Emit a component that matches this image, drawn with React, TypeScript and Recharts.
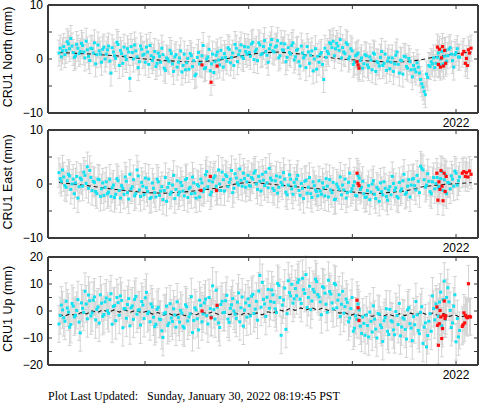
import { ComposedChart, Scatter, Line, XAxis, YAxis, ErrorBar } from 'recharts'

document.body.style.margin = '0'

// time grid of the daily solutions (decimal year): set A every ~8 days from T0,
// set B on the days half-way between
const T0 = 2018.17
const DT = 0.0228
const X_MIN = 2018.064
const X_MAX = 2022.212
const YEAR_TICKS = [2019, 2020, 2021, 2022]

const FRAME = '#3a3a3a'
const CYAN = '#12e2f2'
const RED = '#ff1010'
const BAR = '#d4d4d4'
const SANS = '"Liberation Sans", Arial, sans-serif'

// North (mm)
const northVals = [
  1.1, 0.4, 2.3, 1.6, 2.8, 3.8, 1.2, 0.6, 2.0, 1.4,
  2.5, 0.2, 1.7, -0.3, 1.9, 3.0, 0.8, 1.5, -0.6, 2.2,
  0.9, 2.4, -2.6, 1.3, 0.1, 2.7, 1.6, -0.8, 0.5, 1.9,
  -3.6, 1.2, 2.6, 0.4, -0.5, 1.8, 0.9, 2.2, -1.0, 0.6,
  0.3, -1.4, 1.1, -0.6, 0.8, -2.1, 0.0, 1.6, -0.9, 0.4,
  -1.5, 0.2, -2.4, 0.9, -0.7, -1.9, 0.6, -0.3, -2.8, 1.2,
  -0.8, 2.5, -1.6, 0.4, -2.2, 0.9, -0.5, 1.3, -1.1, 0.2,
  1.0, -0.4, 1.8, 0.3, -1.2, 2.0, 0.8, 2.6, 0.1, 1.4,
  2.2, 0.5, 3.1, 1.4, -0.3, 2.6, 1.0, 3.4, 0.7, 1.9,
  3.6, 1.3, 2.4, 0.2, 2.9, 1.6, -0.5, 2.1, 0.9, 3.0,
  0.4, 1.8, -1.3, 1.1, 0.6, 2.3, -0.8, 1.5, 0.0, -1.9,
  -0.6, 1.2, -3.8, 0.3, 1.0, 2.8, 3.3, 1.9, 2.4, 3.6,
  2.1, 1.0, 2.7, 0.4, 1.5, -0.6, 0.8, -1.4, 0.2, -0.9,
  0.6, -1.6, -0.2, 1.1, -2.3, -0.7, 0.3, -1.2, 0.9, -0.4,
  -1.8, 0.2, -0.9, 1.3, -2.6, -0.3, 0.5, -1.4, 0.1, -2.0,
  -1.2, -2.4, -1.5, -3.8, -5.2, -6.6, -3.4, -1.4, -0.9, -1.6,
  0.3, -1.1, 1.4, 0.5, -0.4, 1.8, 0.9, -1.5, 1.2, 0.4,
]
const northValsB = [
  2.0, 1.5, 0.8, 3.2, 1.9, 2.4, 0.3, 2.7, 1.0, 2.9,
  1.3, 3.3, 0.5, 2.0, 1.1, -0.9, 2.6, 0.9, 1.8, 0.0,
  1.7, -0.4, 2.1, 0.6, 3.1, -1.2, 1.0, 2.2, -0.1, 1.3,
  2.3, 0.0, 1.5, -1.6, 2.4, 0.7, -0.6, 1.3, 2.5, -0.3,
  1.4, -0.8, 0.5, 2.0, -1.7, 0.2, -0.4, 1.0, -2.3, 0.8,
  -0.6, 1.5, -1.2, -2.0, 0.1, 1.0, -1.4, -3.1, 0.3, -0.9,
  0.6, -1.8, 0.0, 1.8, -0.9, -2.5, 0.7, -0.2, 1.6, -1.5,
  0.3, 2.1, -0.7, 1.1, 2.7, -0.5, 1.5, 0.4, 2.3, 0.9,
  1.2, 2.8, -0.1, 1.8, 3.0, 0.8, 2.3, 1.4, -0.6, 2.6,
  1.5, 2.2, 3.4, 0.6, 1.7, 2.8, 0.3, 1.2, 2.5, -0.2,
  1.6, -0.5, 2.4, 0.2, -1.6, 1.3, 0.7, -2.2, 1.9, 0.5,
  0.9, -1.0, 2.0, 1.4, 3.0, 2.1, 0.6, 2.9, 1.6, 0.2,
  1.3, 3.0, 0.0, 1.9, -1.0, 0.6, 1.1, -0.3, -1.7, 0.8,
  -1.1, 0.4, -2.0, 0.9, -0.5, -1.3, 1.4, -0.8, -2.1, 0.2,
  -0.6, -2.3, 0.7, -1.0, -0.2, -2.8, 0.4, -1.7, -0.5, -3.3,
  -1.9, -0.7, -2.6, -4.6, -6.0, -2.8, -1.2, -0.5, 0.2, -0.8,
  1.1, 0.0, -0.9, 1.6, 0.6, 2.1, -0.3, 0.8, 1.9, 0.3,
]
const northRedYears = [2019.55, 2019.637, 2019.695, 2021.045, 2021.055, 2021.064, 2021.82, 2021.83, 2021.84, 2021.85, 2021.86, 2021.87, 2021.88, 2021.89, 2021.9, 2022.06, 2022.075, 2022.09, 2022.1, 2022.11, 2022.12, 2022.13, 2022.145]
const northRedVals = [-1.1, -4.3, -1.3, -0.5, -1.1, -1.7, 2.2, -1.0, 1.8, -1.5, 0.2, 2.3, -1.3, 1.6, -0.8, 0.9, 1.4, -0.8, 0.1, -1.2, 1.7, 1.1, 2.0]
const northTrendYears = [2018.17, 2018.5, 2018.72, 2019.0, 2019.2, 2019.4, 2019.6, 2019.75, 2019.9, 2020.1, 2020.3, 2020.5, 2020.7, 2020.9, 2021.1, 2021.3, 2021.5, 2021.65, 2021.8, 2022.0, 2022.15]
const northTrendVals = [1.2, 0.9, 0.6, 0.0, -0.3, -0.5, -0.4, -0.1, 0.5, 1.1, 1.3, 0.9, 0.4, 0.0, -0.3, -0.5, -0.5, -0.2, 0.4, 1.0, 1.3]

// East (mm)
const eastVals = [
  2.1, 0.5, 1.3, -0.6, 1.8, -1.0, 0.9, 0.2, -2.6, 1.1,
  -0.4, 1.6, 3.2, 2.5, -1.2, 0.3, -1.8, 0.8, -0.9, -2.1,
  0.4, -1.5, -2.3, -0.2, -1.9, 0.6, -2.6, -0.8, 1.3, -1.6,
  1.8, -0.5, -2.2, 2.6, -1.1, 0.3, -2.0, -0.7, 0.9, -2.5,
  -0.8, -2.4, 0.4, -1.3, -2.9, 1.2, -0.6, -1.9, -0.2, -2.7,
  0.6, -1.5, -0.3, -2.2, 1.0, -0.9, -1.8, 0.2, -2.6, -0.4,
  0.9, -1.4, 1.7, -0.5, -2.0, 0.4, 1.5, -1.1, 0.0, 2.2,
  -1.3, 1.4, 0.3, 2.5, -0.8, 1.1, -0.2, 0.7, 2.0, -0.6,
  1.6, -0.4, 0.9, 2.4, -1.0, 0.5, 1.8, -0.3, 0.2, 2.9,
  0.7, -1.2, 1.5, -0.6, 0.3, 2.1, -1.5, -0.2, 0.9, -1.9,
  -0.4, 1.6, -2.1, -0.8, 0.5, -1.7, 1.2, -2.5, -0.3, -1.4,
  0.6, -1.9, -0.7, 1.0, -2.4, -1.1, 0.3, -2.8, -0.5, 1.3,
  -0.2, 0.9, -1.6, 2.0, -0.9, 0.4, -2.2, 1.1, -0.6, -1.8,
  -2.4, -0.3, -1.5, 0.6, -2.7, -1.0, 0.2, -2.0, -0.8, -3.0,
  -0.5, 1.4, -1.2, -2.3, 0.3, -0.9, 1.8, -1.6, 0.8, -0.2,
  1.0, -1.1, 0.5, 3.3, 2.6, -0.6, 1.9, -1.4, 0.4, -0.9,
  1.2, -0.5, 2.3, 0.8, -1.8, 0.2, 1.5, -0.4, 2.0, 0.6,
]
const eastValsB = [
  1.0, 2.6, -0.3, 0.6, 1.5, 0.0, -1.8, 1.4, -0.5, 0.8,
  2.2, 0.1, -0.8, 1.2, 0.5, -1.4, 0.9, -2.3, 0.2, -0.6,
  -1.8, 0.9, -0.7, -2.5, 1.0, -1.2, -0.3, -1.9, 0.5, -2.8,
  -0.9, 0.8, -1.8, 1.5, -2.3, -0.4, 1.1, -1.4, -2.7, 0.2,
  -1.6, 0.9, -2.1, -0.5, -1.2, -3.2, 0.1, -1.5, 1.6, -1.0,
  -2.0, 0.3, -1.3, 0.8, -2.5, -0.6, 1.3, -1.7, -0.1, -2.4,
  0.2, -0.9, 2.3, 0.6, -1.5, 1.1, -0.4, 2.6, -1.2, 0.8,
  1.7, -0.5, 0.9, -1.6, 1.9, 0.2, 2.8, -0.4, 1.0, 0.4,
  -0.3, 1.2, 2.0, 0.0, 1.4, -1.3, 0.7, 2.2, -0.7, 1.1,
  -0.8, 0.6, -1.7, 1.3, -0.2, 0.9, -2.0, 1.7, -0.9, 0.3,
  0.9, -1.2, 0.1, -2.7, 0.7, -0.6, -1.8, 0.4, -1.1, -2.2,
  -1.3, 0.2, -2.2, -0.4, 0.8, -1.6, -2.9, 0.0, -1.0, -2.0,
  -1.1, -2.6, 0.3, -1.4, -0.3, -2.1, 1.6, -1.0, 0.5, -2.5,
  -1.2, -2.9, 0.0, -1.9, -0.6, -3.2, -1.4, 0.4, -2.3, -1.1,
  -2.0, 0.1, -0.7, -2.6, -1.3, 0.6, -1.9, -0.4, -2.4, 0.9,
  -0.3, 1.6, -1.6, 2.9, 0.8, -0.2, 0.5, -1.8, 1.2, 0.1,
  -0.7, 1.0, -1.2, 1.7, 0.3, -0.9, 0.9, 2.4, -0.2, 1.3,
]
const eastRedYears = [2019.54, 2019.63, 2019.69, 2021.045, 2021.055, 2021.064, 2021.815, 2021.825, 2021.835, 2021.845, 2021.855, 2021.865, 2021.875, 2021.885, 2021.895, 2021.905, 2022.06, 2022.075, 2022.09, 2022.1, 2022.115, 2022.13, 2022.145]
const eastRedVals = [-1.2, 1.4, -1.2, 2.0, 0.1, -0.3, 2.0, -3.0, 0.4, -1.0, 2.5, -0.4, -3.1, 2.0, -1.4, 1.4, 2.0, 2.3, 1.4, 2.1, 1.3, 2.4, 1.8]
const eastTrendYears = [2018.17, 2018.48, 2018.71, 2019.0, 2019.2, 2019.42, 2019.68, 2019.9, 2020.0, 2020.15, 2020.45, 2020.8, 2021.19, 2021.51, 2021.68, 2021.87, 2022.15]
const eastTrendVals = [0.3, -0.4, -1.0, -1.6, -1.7, -1.4, -0.8, 0.1, 0.3, 0.1, -0.5, -1.1, -1.85, -1.3, -0.5, -0.1, 0.25]

// Up (mm)
const upVals = [
  -4.8, 2.2, -2.5, 3.6, -0.4, -5.0, 1.8, -1.6, 4.2, -8.1,
  1.0, 7.3, -2.9, 3.8, -0.7, 5.2, 0.6, -4.5, 2.9, -1.3,
  4.8, -0.9, 6.4, 1.7, -3.6, 3.1, 5.6, -6.2, 0.8, 2.4,
  -5.5, 1.9, 4.3, -1.2, 0.5, 3.5, -2.8, 6.9, -0.3, 2.6,
  -2.3, -4.9, 1.4, -3.2, -9.8, -0.6, -5.4, 2.7, -3.9, -1.5,
  3.4, -4.1, -0.8, -6.3, 1.6, -2.2, 5.3, -3.5, 0.4, -7.0,
  2.0, -1.1, 4.4, -4.8, 0.9, 9.3, -3.0, 1.5, -6.1, 3.6,
  -0.5, 5.8, -4.2, 2.3, 0.0, -2.7, 6.7, 1.2, -5.6, 3.0,
  4.5, -1.8, 6.2, 0.7, -3.4, 13.2, 10.6, 2.6, 5.1, 1.0,
  7.8, 3.2, -0.6, 9.5, -9.0, 4.1, -6.8, 11.2, 5.6, 2.9,
  8.3, 10.6, 4.4, 12.1, 6.5, 1.3, 9.2, 3.7, 7.0, 10.9,
  5.2, -1.4, 8.6, 2.5, 11.4, 6.3, 0.8, 9.7, 4.0, -2.0,
  7.3, 1.6, 3.2, -2.6, 5.0, -6.4, -3.1, 0.4, -8.3, -4.6,
  -1.5, -9.6, -3.8, 1.9, -6.7, -0.9, -5.2, -11.3, -2.4, -7.5,
  0.6, -4.0, -8.8, -1.7, 2.8, -5.9, -3.0, -10.4, 1.2, -6.3,
  -2.1, 3.5, -7.2, -0.5, -12.0, -4.4, -9.1, -1.0, 5.6, -3.3,
  1.2, 3.3, -5.5, 11.1, 5.0, 3.4, -6.1, 1.8, -11.4, -9.6,
]
const upValsB = [
  -1.7, 0.4, -3.8, 1.1, -6.0, 2.8, -2.2, 0.2, -4.1, 3.0,
  -0.5, 2.6, 5.9, -1.8, 4.0, -3.3, 1.5, 6.0, -2.0, 3.4,
  0.1, 4.2, -4.9, 2.0, 5.0, -1.6, 3.9, 0.9, -2.7, 4.6,
  1.2, -3.1, 5.4, 0.3, -5.2, 2.2, 4.9, -1.0, -4.0, 1.5,
  -5.8, 0.6, -3.0, -7.3, -1.0, 1.8, -4.5, -2.6, 0.8, -6.0,
  -2.4, 0.2, -5.7, 2.3, -3.7, -1.1, -8.0, 1.2, -2.9, 4.0,
  -4.0, 3.0, -1.7, 5.0, -2.2, 0.5, 7.7, -4.4, 2.4, -0.6,
  3.8, -3.0, 1.0, 4.6, -1.2, 3.3, -4.0, 5.2, 0.3, -2.3,
  2.0, 5.5, -0.9, 3.6, 7.4, 1.4, 4.3, -2.0, 8.0, 3.5,
  6.0, 0.8, 10.2, 5.0, 2.2, 8.5, -1.0, 6.8, 9.9, 4.5,
  5.6, 11.6, 2.8, 7.9, 13.5, 5.0, 0.5, 8.0, 11.8, 6.1,
  3.4, 9.0, 6.6, -0.5, 7.2, 3.0, 10.2, 1.2, 6.0, 2.5,
  -0.8, 4.4, -4.0, 0.9, -7.5, -1.8, 2.6, -5.6, -2.2, -9.0,
  -5.4, -0.4, -7.8, -3.0, -10.0, -1.2, -6.1, -3.6, 0.8, -8.7,
  -3.6, -7.0, -0.2, -5.0, -9.2, -2.5, -6.8, 0.4, -4.7, -11.0,
  -5.1, -1.4, -8.4, 1.6, -6.0, -13.3, -3.8, -7.5, 0.9, 2.6,
  -2.0, 7.0, 4.2, -3.0, 8.6, 0.2, -4.4, 6.0, -2.8, -7.2,
]
const upRedYears = [2019.55, 2019.637, 2019.695, 2021.045, 2021.055, 2021.064, 2021.815, 2021.822, 2021.83, 2021.838, 2021.846, 2021.854, 2021.862, 2021.87, 2021.878, 2021.886, 2021.894, 2021.902, 2022.06, 2022.068, 2022.076, 2022.084, 2022.092, 2022.1, 2022.11, 2022.12, 2022.13, 2022.14]
const upRedVals = [0.0, -2.5, 2.1, 4.0, 1.2, -3.5, 1.5, -5.3, -12.7, -4.7, 0.2, -2.2, -10.2, -6.5, -1.6, 3.7, -2.8, -1.8, -5.7, -5.1, -0.7, -4.4, -1.6, -2.2, -2.5, 10.1, -2.0, -2.2]
// model curve sampled every 0.053 yr from 2018.17
const UP_TREND_DT = 0.053
const upTrendVals = [
  -1.2, -1.9, -1.05, -1.7, -0.6, -1.1, 0.05, -0.55, 0.4, -0.4,
  0.4, -0.4, 0.4, -0.45, 0.3, -0.65, -0.1, -1.15, -0.55, -1.55,
  -0.9, -1.8, -1.1, -1.75, -0.8, -1.4, -0.4, -1.0, -0.35, -1.3,
  -0.55, -1.4, -0.65, -1.5, -0.7, -1.5, -0.7, -1.4, -0.3, -0.75,
  0.45, -0.1, 0.9, 0.25, 1.15, 0.4, 1.2, 0.35, 1.1, 0.2,
  0.6, -0.8, -0.5, -1.6, -1.05, -1.95, -1.2, -2.0, -1.2, -1.95,
  -1.15, -1.9, -1.0, -1.7, -0.8, -1.5, -0.6, -1.45, -0.75, -1.65,
  -1.0, -2.0, -1.4, -2.35, -1.7, -2.6,
]

const SIG_N = 2.4
const SIG_E = 2.7
const SIG_U = 6.8

type Pt = { x: number; y: number; e: number }

const onGrid = (a: number[], b: number[], sig: number): Pt[] => [
  ...a.map((v, i) => ({ x: T0 + i * DT, y: v, e: sig })),
  ...b.map((v, i) => ({ x: T0 + (i + 0.5) * DT, y: v, e: sig })),
].sort((p, q) => p.x - q.x)
const paired = (xs: number[], vals: number[], sig: number): Pt[] => xs.map((x, i) => ({ x, y: vals[i], e: sig }))

const fmt = (v: number) => (v < 0 ? `\u2212${-v}` : `${v}`)

const CyanDot = (p: any) => <rect x={p.cx - 1.5} y={p.cy - 1.5} width={3} height={3} fill={CYAN} />
const RedDot = (p: any) => <rect x={p.cx - 1.6} y={p.cy - 1.6} width={3.2} height={3.2} fill={RED} />
const NoDot = () => <g />

const LeftTick = (p: any) => {
  const v = p.payload.value
  return (
    <g>
      <line x1={p.x} x2={p.x + 4} y1={p.y} y2={p.y} stroke={FRAME} />
      {v % 10 === 0 && (
        <text x={p.x - 5} y={p.y} dy="0.36em" textAnchor="end" fontSize={12} fontFamily={SANS} fill="#000">
          {fmt(v)}
        </text>
      )}
    </g>
  )
}
const RightTick = (p: any) => <line x1={p.x - 4} x2={p.x} y1={p.y} y2={p.y} stroke={FRAME} />
const TopTick = (p: any) => <line x1={p.x} x2={p.x} y1={p.y} y2={p.y + 4} stroke={FRAME} />
const BottomTick = (p: any) => (
  <g>
    <line x1={p.x} x2={p.x} y1={p.y - 4} y2={p.y} stroke={FRAME} />
    {p.payload.value === 2022 && (
      <text x={p.x} y={p.y + 14} textAnchor="middle" fontSize={12} fontFamily={SANS} fill="#000">
        2022
      </text>
    )}
  </g>
)

interface PanelProps {
  top: number
  title: string
  domain: [number, number]
  ticks: number[]
  cyan: Pt[]
  red: Pt[]
  trend: { x: number; y: number }[]
}

// each panel's chart starts 12px above its frame so the top tick label has room
const PAD = 12

const Panel = ({ top, title, domain, ticks, cyan, red, trend }: PanelProps) => {
  const axisLine = { stroke: FRAME, strokeWidth: 2 }
  return (
    <>
      <div
        style={{
          position: 'absolute', left: 8, top: top + 52,
          transform: 'translate(-50%, -50%) rotate(-90deg)',
          whiteSpace: 'nowrap', fontSize: 12.5, fontFamily: SANS, lineHeight: '14px',
        }}
      >
        {title}
      </div>
      <div style={{ position: 'absolute', left: 0, top: top - PAD, width: 481, height: 147 }}>
        <ComposedChart width={481} height={147} margin={{ top: PAD - 1, right: 2, bottom: 26, left: 18 }}>
          <XAxis
            dataKey="x" type="number" domain={[X_MIN, X_MAX]} allowDataOverflow ticks={YEAR_TICKS} interval={0}
            height={1} tickSize={0} tickMargin={0} tickLine={false} axisLine={axisLine} tick={BottomTick}
          />
          <XAxis
            xAxisId="t" orientation="top" dataKey="x" type="number" domain={[X_MIN, X_MAX]} allowDataOverflow
            ticks={YEAR_TICKS} interval={0} height={1} tickSize={0} tickMargin={0} tickLine={false}
            axisLine={axisLine} tick={TopTick}
          />
          <YAxis
            dataKey="y" type="number" domain={domain} allowDataOverflow ticks={ticks} interval={0} width={30}
            tickSize={0} tickMargin={0} tickLine={false} axisLine={axisLine} tick={LeftTick}
          />
          <YAxis
            yAxisId="r" orientation="right" dataKey="y" type="number" domain={domain} allowDataOverflow ticks={ticks}
            interval={0} width={1} tickSize={0} tickMargin={0} tickLine={false} axisLine={axisLine} tick={RightTick}
          />
          <Scatter data={[...cyan, ...red]} shape={NoDot} isAnimationActive={false}>
            <ErrorBar dataKey="e" direction="y" width={2} stroke={BAR} strokeWidth={1} />
          </Scatter>
          <Scatter data={cyan} shape={CyanDot} isAnimationActive={false} />
          <Scatter data={red} shape={RedDot} isAnimationActive={false} />
          <Line
            data={trend} dataKey="y" type="linear" stroke="#1a1a1a" strokeWidth={1.1}
            strokeDasharray="4 3" dot={false} isAnimationActive={false}
          />
        </ComposedChart>
      </div>
    </>
  )
}

export default function App() {
  const northTrend = northTrendYears.map((x, i) => ({ x, y: northTrendVals[i] }))
  const eastTrend = eastTrendYears.map((x, i) => ({ x, y: eastTrendVals[i] }))
  const upTrend = upTrendVals.map((y, i) => ({ x: T0 + i * UP_TREND_DT, y }))
  return (
    <div style={{ position: 'relative', width: 481, height: 404, background: '#fff', overflow: 'hidden' }}>
      <Panel
        top={5} title="CRU1 North (mm)" domain={[-10, 10]} ticks={[-10, -5, 0, 5, 10]}
        cyan={onGrid(northVals, northValsB, SIG_N)} red={paired(northRedYears, northRedVals, SIG_N)} trend={northTrend}
      />
      <Panel
        top={130} title="CRU1 East (mm)" domain={[-10, 10]} ticks={[-10, -5, 0, 5, 10]}
        cyan={onGrid(eastVals, eastValsB, SIG_E)} red={paired(eastRedYears, eastRedVals, SIG_E)} trend={eastTrend}
      />
      <Panel
        top={257} title="CRU1 Up (mm)" domain={[-20, 20]} ticks={[-20, -15, -10, -5, 0, 5, 10, 15, 20]}
        cyan={onGrid(upVals, upValsB, SIG_U)} red={paired(upRedYears, upRedVals, SIG_U)} trend={upTrend}
      />
      <div
        style={{
          position: 'absolute', left: 48, top: 389, fontSize: 12, lineHeight: '14px',
          fontFamily: '"Liberation Serif", "Times New Roman", serif', whiteSpace: 'pre',
        }}
      >
        {'Plot Last Updated:   Sunday, January 30, 2022 08:19:45 PST'}
      </div>
    </div>
  )
}
